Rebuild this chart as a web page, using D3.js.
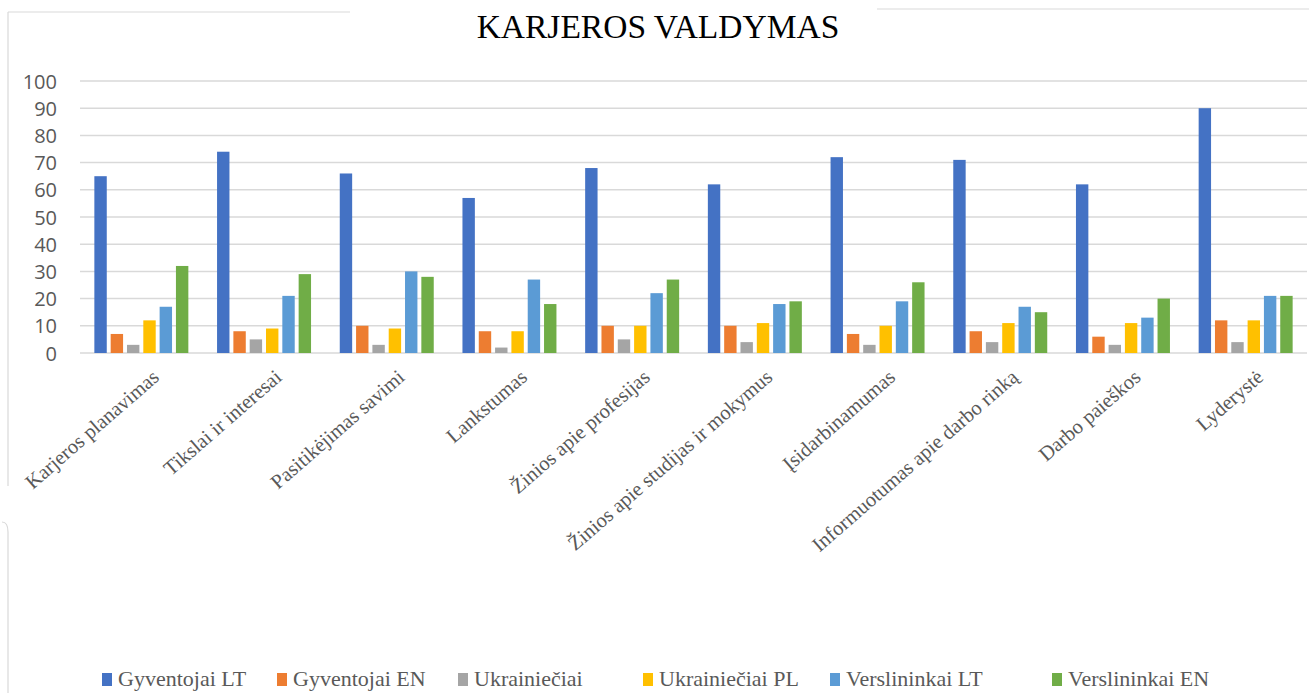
<!DOCTYPE html>
<html lang="lt">
<head>
<meta charset="UTF-8">
<title>Karjeros valdymas</title>
<script src="https://d3js.org/d3.v7.min.js"></script>
<style>
    body { margin: 0; background: #fff; }
    .grid line { stroke: #d9d9d9; stroke-width: 1.5; }
    .y-axis text { font-family: "Open Sans", sans-serif; font-size: 20px; fill: #595959; }
    .x-label { font-family: "Liberation Serif", "Times New Roman", serif; font-size: 20.5px; fill: #595959; }
    .legend text { font-family: "Liberation Serif", "Times New Roman", serif; font-size: 22px; fill: #595959; }
    .frame { stroke: #d9d9d9; stroke-width: 1.2; fill: none; }
</style>
</head>
<body>
<svg id="chart"></svg>
<script>
    const categories = ["Karjeros planavimas", "Tikslai ir interesai", "Pasitikėjimas savimi", "Lankstumas",
        "Žinios apie profesijas", "Žinios apie studijas ir mokymus", "Įsidarbinamumas",
        "Informuotumas apie darbo rinką", "Darbo paieškos", "Lyderystė"];
    const seriesNames = ["Gyventojai LT", "Gyventojai EN", "Ukrainiečiai", "Ukrainiečiai PL", "Verslininkai LT", "Verslininkai EN"];
    const gyventojaiLT = [65, 74, 66, 57, 68, 62, 72, 71, 62, 90];
    const gyventojaiEN = [7, 8, 10, 8, 10, 10, 7, 8, 6, 12];
    const ukrainieciai = [3, 5, 3, 2, 5, 4, 3, 4, 3, 4];
    const ukrainieciaiPL = [12, 9, 9, 8, 10, 11, 10, 11, 11, 12];
    const verslininkaiLT = [17, 21, 30, 27, 22, 18, 19, 17, 13, 21];
    const verslininkaiEN = [32, 29, 28, 18, 27, 19, 26, 15, 20, 21];
    const yTicks = [0, 10, 20, 30, 40, 50, 60, 70, 80, 90, 100];
    const colors = ["#4472C4", "#ED7D31", "#A5A5A5", "#FFC000", "#5B9BD5", "#70AD47"];

    const values = [gyventojaiLT, gyventojaiEN, ukrainieciai, ukrainieciaiPL, verslininkaiLT, verslininkaiEN];

    const W = 1309, H = 693;
    const svg = d3.select("#chart").attr("width", W).attr("height", H);

    // outer frame pieces (the original picture is a clipped screenshot)
    svg.append("line").attr("class", "frame").attr("x1", 8).attr("y1", 12).attr("x2", 350).attr("y2", 12);
    svg.append("line").attr("class", "frame").attr("x1", 877).attr("y1", 9).attr("x2", 1309).attr("y2", 9);
    svg.append("line").attr("class", "frame").attr("x1", 8).attr("y1", 12).attr("x2", 8).attr("y2", 486);
    svg.append("path").attr("class", "frame").attr("d", "M2,522 Q8,522 8,532 L8,693");

    const x = d3.scaleBand().domain(categories).range([80, 1307]).paddingInner(0.234).paddingOuter(0.117);
    const xs = d3.scaleBand().domain(seriesNames).range([0, x.bandwidth()]).paddingInner(0.24);
    const y = d3.scaleLinear().domain([0, 100]).range([353, 81]);

    // gridlines
    svg.append("g").attr("class", "grid")
        .selectAll("line").data(yTicks).join("line")
        .attr("x1", 80).attr("x2", 1307)
        .attr("y1", d => y(d)).attr("y2", d => y(d));

    // y axis labels
    const yAxis = svg.append("g").attr("class", "y-axis")
        .attr("transform", "translate(80,0)")
        .call(d3.axisLeft(y).tickValues(yTicks).tickSize(0).tickPadding(23));
    yAxis.select(".domain").remove();
    yAxis.selectAll("text").attr("dy", "0.35em");

    // bars
    const groups = svg.append("g").selectAll("g").data(categories).join("g")
        .attr("transform", d => `translate(${x(d)},0)`);
    groups.selectAll("rect")
        .data((c, i) => seriesNames.map((s, k) => ({ s: s, v: values[k][i], k: k })))
        .join("rect")
        .attr("x", d => xs(d.s))
        .attr("width", xs.bandwidth())
        .attr("y", d => y(d.v))
        .attr("height", d => y(0) - y(d.v))
        .attr("fill", d => colors[d.k]);

    // category labels
    svg.append("g").selectAll("text").data(categories).join("text")
        .attr("class", "x-label")
        .attr("text-anchor", "end")
        .attr("transform", d => `translate(${x(d) + x.bandwidth() / 2 + 19},379) rotate(-41)`)
        .text(d => d);

    // title
    svg.append("rect").attr("x", 350).attr("y", 0).attr("width", 527).attr("height", 16).attr("fill", "#fff");
    svg.append("text")
        .attr("x", 658).attr("y", 38)
        .attr("text-anchor", "middle")
        .style("font-family", "'Liberation Serif', 'Times New Roman', serif")
        .style("font-size", "33.5px")
        .style("fill", "#000")
        .text("KARJEROS VALDYMAS");

    // legend
    const legendX = [102, 277, 458, 643, 830, 1052];
    const legend = svg.append("g").attr("class", "legend")
        .selectAll("g").data(seriesNames).join("g")
        .attr("transform", (d, i) => `translate(${legendX[i]},673)`);
    legend.append("rect").attr("width", 10).attr("height", 13).attr("fill", (d, i) => colors[i]);
    legend.append("text").attr("x", 16).attr("y", 13).text(d => d);
</script>
</body>
</html>
